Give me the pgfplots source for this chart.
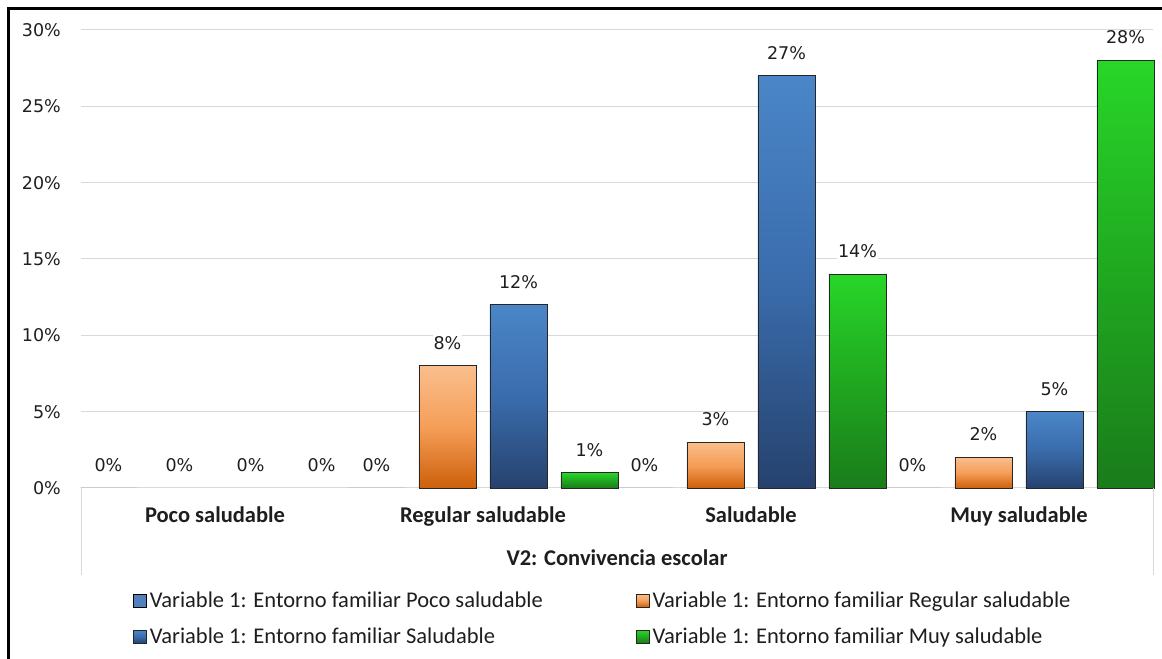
\documentclass[border=0pt]{standalone}
\usepackage{fontspec}
\setmainfont{Carlito}
\newfontfamily\numfont{DejaVu Sans}
\usepackage{pgfplots}
\pgfplotsset{compat=1.18}

\definecolor{gridgray}{RGB}{217,217,217}
\definecolor{txt}{RGB}{30,30,30}
\definecolor{sA}{RGB}{79,129,189}
\definecolor{orTop}{RGB}{250,190,140}
\definecolor{orMid}{RGB}{245,158,88}
\definecolor{orBot}{RGB}{205,96,10}
\definecolor{blTop}{RGB}{74,134,200}
\definecolor{blMid}{RGB}{58,108,172}
\definecolor{blBot}{RGB}{38,66,110}
\definecolor{grTop}{RGB}{40,214,40}
\definecolor{grMid}{RGB}{32,168,32}
\definecolor{grBot}{RGB}{26,124,26}

\pgfplotsset{
  sq/.style={legend image code/.code={\draw[##1,line width=0.7bp] (0bp,-6.5bp) rectangle (13bp,6.5bp);}},
  pos/.style={ybar, bar width=0.213, bar shift=#1*0.265, forget plot,
    every node near coord/.append style={xshift=#1*71bp}},
  fillA/.style={draw=none, fill=sA},
  fillB/.style={draw=black!85, line width=0.8bp, top color=orTop, bottom color=orBot, middle color=orMid},
  fillC/.style={draw=black!85, line width=0.8bp, top color=blTop, bottom color=blBot, middle color=blMid},
  fillD/.style={draw=black!85, line width=0.8bp, top color=grTop, bottom color=grBot, middle color=grMid},
  empty/.style={draw=none, fill=none},
}

\begin{document}
\begin{tikzpicture}[x=1bp,y=1bp]
\useasboundingbox (0,0) rectangle (1162,659);
\draw[line width=3bp] (8,0) -- (8,650) -- (1162,650);
\begin{axis}[
  at={(81bp,171bp)}, anchor=south west,
  width=1072bp, height=458bp, scale only axis,
  xmin=-0.5, xmax=3.5, ymin=0, ymax=30,
  xtick={0,1,2,3},
  xticklabels={Poco saludable, Regular saludable, Saludable, Muy saludable},
  ytick={0,5,...,30},
  /pgf/number format/assume math mode=true,
  yticklabel={\pgfmathprintnumber{\tick}\%},
  ymajorgrids, grid style={color=gridgray, line width=1bp},
  axis line style={draw=none},
  major tick length=0pt,
  xticklabel style={font=\bfseries\fontsize{22.5bp}{26bp}\selectfont, text=txt, anchor=base, yshift=-35bp},
  yticklabel style={font=\numfont\fontsize{17.5bp}{21bp}\selectfont, text=txt, anchor=east, inner sep=0pt, xshift=-20bp},
  clip=false,
  nodes near coords={\pgfmathprintnumber{\pgfplotspointmeta}\%},
  every node near coord/.append style={font=\numfont\fontsize{17.5bp}{21bp}\selectfont, text=txt, fill=white, inner sep=1bp, anchor=center, yshift=23bp},
  legend columns=2,
  legend cell align=left,
  legend style={at={(axis description cs:0.0457,-0.218)}, anchor=north west, draw=none, fill=none,
    font=\fontsize{22.5bp}{26bp}\selectfont, text=txt,
    nodes={inner xsep=3bp, inner ysep=2bp},
    /tikz/every even column/.append style={column sep=90bp},
    row sep=15bp},
]
% Variable 1: Entorno familiar Poco saludable (all zero)
\addplot[pos=-1.5, fillA] coordinates {(0,0) (1,0) (2,0) (3,0)};
% Variable 1: Entorno familiar Regular saludable
\addplot[pos=-0.5, empty] coordinates {(0,0)};
\addplot[pos=-0.5, fillB] coordinates {(1,8)};
\addplot[pos=-0.5, fillB] coordinates {(2,3)};
\addplot[pos=-0.5, fillB] coordinates {(3,2)};
% Variable 1: Entorno familiar Saludable
\addplot[pos=0.5, empty] coordinates {(0,0)};
\addplot[pos=0.5, fillC] coordinates {(1,12)};
\addplot[pos=0.5, fillC] coordinates {(2,27)};
\addplot[pos=0.5, fillC] coordinates {(3,5)};
% Variable 1: Entorno familiar Muy saludable
\addplot[pos=1.5, empty] coordinates {(0,0)};
\addplot[pos=1.5, fillD] coordinates {(1,1)};
\addplot[pos=1.5, fillD] coordinates {(2,14)};
\addplot[pos=1.5, fillD] coordinates {(3,28)};
% legend
\addlegendimage{fillA, sq}
\addlegendentry{Variable 1: Entorno familiar Poco saludable}
\addlegendimage{fillB, sq}
\addlegendentry{Variable 1: Entorno familiar Regular saludable}
\addlegendimage{fillC, sq}
\addlegendentry{Variable 1: Entorno familiar Saludable}
\addlegendimage{fillD, sq}
\addlegendentry{Variable 1: Entorno familiar Muy saludable}
\end{axis}
\draw[gridgray, line width=1bp] (81,171) -- (81,84);
\draw[gridgray, line width=1bp] (1153,171) -- (1153,84);
\node[anchor=base, font=\bfseries\fontsize{22.5bp}{26bp}\selectfont, text=txt] at (617,93) {V2: Convivencia escolar};
\end{tikzpicture}
\end{document}
